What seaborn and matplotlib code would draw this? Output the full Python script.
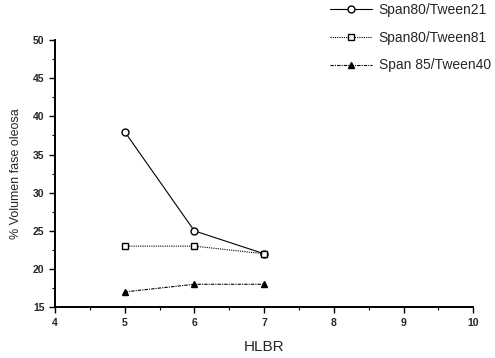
import matplotlib
matplotlib.use("Agg")
import matplotlib.pyplot as plt
import seaborn as sns
import pandas as pd
from matplotlib.ticker import MultipleLocator

sns.set_theme(style="ticks")
plt.rcParams['font.family'] = ['Liberation Sans', 'DejaVu Sans']

hlbr = [5, 6, 7]
s_tween21 = [38, 25, 22]
s_tween81 = [23, 23, 22]
s_tween40 = [17, 18, 18]
labels = ["Span80/Tween21", "Span80/Tween81", "Span 85/Tween40"]

df = pd.DataFrame({
    "HLBR": hlbr * 3,
    "val": s_tween21 + s_tween81 + s_tween40,
    "serie": [labels[0]] * 3 + [labels[1]] * 3 + [labels[2]] * 3,
})

fig = plt.figure(figsize=(4.95, 3.58), dpi=100)
ax = fig.add_axes([0.111, 0.142, 0.845, 0.746])

styles = {
    labels[0]: dict(marker="o", ls="-", mfc="white", ms=5),
    labels[1]: dict(marker="s", ls=(0, (1, 1)), mfc="white", ms=4.5),
    labels[2]: dict(marker="^", ls=(0, (3, 1, 1, 1)), mfc="black", ms=5),
}
for lab in labels:
    sub = df[df["serie"] == lab]
    st = styles[lab]
    sns.lineplot(data=sub, x="HLBR", y="val", ax=ax, color="black", lw=0.8,
                 linestyle=st["ls"], marker=st["marker"], markersize=st["ms"],
                 markerfacecolor=st["mfc"], markeredgecolor="black",
                 markeredgewidth=1.0, label=lab)

ax.set_xlim(4, 10)
ax.set_ylim(15, 50)
ax.xaxis.set_major_locator(MultipleLocator(1))
ax.xaxis.set_minor_locator(MultipleLocator(0.5))
ax.yaxis.set_major_locator(MultipleLocator(5))
ax.yaxis.set_minor_locator(MultipleLocator(2.5))
ax.tick_params(axis="both", which="major", length=4, width=1, labelsize=7.5, color="black")
ax.tick_params(axis="both", which="minor", length=2, width=0.8, color="black")
for s in ["top", "right"]:
    ax.spines[s].set_visible(False)
for s in ["left", "bottom"]:
    ax.spines[s].set_linewidth(1.4)
    ax.spines[s].set_color("black")
for t in ax.get_xticklabels() + ax.get_yticklabels():
    t.set_fontweight("bold")

ax.set_xlabel("HLBR", fontsize=11, labelpad=9)
ax.set_ylabel("% Volumen fase oleosa", fontsize=9, labelpad=8)

leg = ax.legend(loc="upper left", bbox_to_anchor=(0.658, 1.14), frameon=False,
                fontsize=10, handlelength=3.0, labelspacing=1.0, handletextpad=0.5,
                borderaxespad=0, borderpad=0)

fig.savefig("out.png", dpi=100)
